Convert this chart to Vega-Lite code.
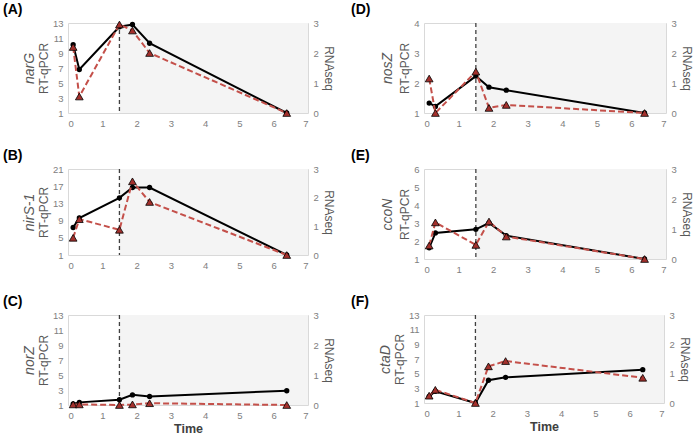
{
  "$schema": "https://vega.github.io/schema/vega-lite/v6.json",
  "padding": {"left": 2, "top": 2, "right": 0, "bottom": 0},
  "background": "white",
  "datasets": {
    "expr": [
      {"gene": "narG", "time": 0.15, "qpcr": 10.1, "rnaseq": 2.2},
      {"gene": "narG", "time": 0.33, "qpcr": 6.8, "rnaseq": 0.55},
      {"gene": "narG", "time": 1.5, "qpcr": 12.5, "rnaseq": 2.95},
      {"gene": "narG", "time": 1.88, "qpcr": 12.8, "rnaseq": 2.75},
      {"gene": "narG", "time": 2.38, "qpcr": 10.3, "rnaseq": 2.0},
      {"gene": "narG", "time": 6.38, "qpcr": 1.0, "rnaseq": 0.0},
      {"gene": "nirS-1", "time": 0.15, "qpcr": 7.4, "rnaseq": 0.6},
      {"gene": "nirS-1", "time": 0.33, "qpcr": 9.6, "rnaseq": 1.25},
      {"gene": "nirS-1", "time": 1.5, "qpcr": 14.3, "rnaseq": 0.88},
      {"gene": "nirS-1", "time": 1.88, "qpcr": 16.7, "rnaseq": 2.57},
      {"gene": "nirS-1", "time": 2.38, "qpcr": 16.7, "rnaseq": 1.85},
      {"gene": "nirS-1", "time": 6.38, "qpcr": 1.0, "rnaseq": 0.0},
      {"gene": "norZ", "time": 0.15, "qpcr": 1.15, "rnaseq": 0.02},
      {"gene": "norZ", "time": 0.33, "qpcr": 1.35, "rnaseq": 0.02},
      {"gene": "norZ", "time": 1.5, "qpcr": 1.7, "rnaseq": 0.0},
      {"gene": "norZ", "time": 1.88, "qpcr": 2.35, "rnaseq": 0.02},
      {"gene": "norZ", "time": 2.38, "qpcr": 2.15, "rnaseq": 0.06},
      {"gene": "norZ", "time": 6.38, "qpcr": 2.9, "rnaseq": 0.0},
      {"gene": "nosZ", "time": 0.15, "qpcr": 1.33, "rnaseq": 1.15},
      {"gene": "nosZ", "time": 0.33, "qpcr": 1.22, "rnaseq": 0.0},
      {"gene": "nosZ", "time": 1.5, "qpcr": 2.23, "rnaseq": 1.38},
      {"gene": "nosZ", "time": 1.88, "qpcr": 1.86, "rnaseq": 0.17},
      {"gene": "nosZ", "time": 2.38, "qpcr": 1.76, "rnaseq": 0.27},
      {"gene": "nosZ", "time": 6.38, "qpcr": 1.0, "rnaseq": 0.0},
      {"gene": "ccoN", "time": 0.15, "qpcr": 1.62, "rnaseq": 0.45},
      {"gene": "ccoN", "time": 0.33, "qpcr": 2.45, "rnaseq": 1.22},
      {"gene": "ccoN", "time": 1.5, "qpcr": 2.65, "rnaseq": 0.47},
      {"gene": "ccoN", "time": 1.88, "qpcr": 3.0, "rnaseq": 1.25},
      {"gene": "ccoN", "time": 2.38, "qpcr": 2.3, "rnaseq": 0.75},
      {"gene": "ccoN", "time": 6.38, "qpcr": 1.0, "rnaseq": 0.0},
      {"gene": "ctaD", "time": 0.15, "qpcr": 1.9, "rnaseq": 0.25},
      {"gene": "ctaD", "time": 0.33, "qpcr": 2.6, "rnaseq": 0.45},
      {"gene": "ctaD", "time": 1.5, "qpcr": 1.0, "rnaseq": 0.0},
      {"gene": "ctaD", "time": 1.88, "qpcr": 4.1, "rnaseq": 1.25},
      {"gene": "ctaD", "time": 2.38, "qpcr": 4.5, "rnaseq": 1.43},
      {"gene": "ctaD", "time": 6.38, "qpcr": 5.55, "rnaseq": 0.86}
    ],
    "shift": [{"time": 1.5, "t1": 7}]
  },
  "spacing": 20,
  "vconcat": [
    {
      "spacing": 15,
      "hconcat": [
        {
          "width": 240, "height": 90,
          "title": {"text": "(A)"},
          "data": {"name": "expr"},
          "transform": [{"filter": "datum.gene === 'narG'"}],
          "encoding": {"x": {"field": "time", "type": "quantitative", "scale": {"domain": [0, 7], "nice": false}, "axis": {"values": [0, 1, 2, 3, 4, 5, 6, 7], "title": null}}},
          "layer": [
            {"data": {"name": "shift"}, "mark": {"type": "rect", "color": "#f4f4f4"}, "encoding": {"x2": {"field": "t1"}}},
            {"data": {"name": "shift"}, "mark": {"type": "rule", "color": "#404040", "strokeDash": [4, 3], "strokeWidth": 1.3}, "encoding": {}},
            {"layer": [
              {"mark": {"type": "line", "color": "#000000", "strokeWidth": 2}},
              {"mark": {"type": "point", "filled": true, "color": "#000000", "size": 28, "opacity": 1}}
            ], "encoding": {"y": {"field": "qpcr", "type": "quantitative", "scale": {"domain": [1, 13], "nice": false, "zero": false}, "axis": {"orient": "left", "values": [1, 3, 5, 7, 9, 11, 13], "title": "RT-qPCR", "titlePadding": 2}}}},
            {"layer": [
              {"mark": {"type": "line", "color": "#c4504a", "strokeWidth": 2, "strokeDash": [6, 3]}},
              {"mark": {"type": "point", "shape": "triangle-up", "filled": true, "fill": "#a3302c", "stroke": "#000000", "strokeWidth": 0.8, "size": 60, "opacity": 1}}
            ], "encoding": {"y": {"field": "rnaseq", "type": "quantitative", "scale": {"domain": [0, 3], "nice": false}, "axis": {"orient": "right", "values": [0, 1, 2, 3], "title": "RNAseq", "titlePadding": 3}}}},
            {"mark": {"type": "point", "opacity": 0}, "encoding": {"y": {"field": "qpcr", "type": "quantitative", "scale": {"domain": [1, 13], "nice": false, "zero": false}, "axis": {"orient": "left", "labels": false, "title": "narG", "titleFontStyle": "italic", "titleFontSize": 14, "titlePadding": 32}}}}
          ],
          "resolve": {"scale": {"y": "independent"}}
        },
        {
          "width": 242, "height": 90,
          "title": {"text": "(D)", "dx": -73},
          "data": {"name": "expr"},
          "transform": [{"filter": "datum.gene === 'nosZ'"}],
          "encoding": {"x": {"field": "time", "type": "quantitative", "scale": {"domain": [0, 7], "nice": false}, "axis": {"values": [0, 1, 2, 3, 4, 5, 6, 7], "title": null}}},
          "layer": [
            {"data": {"name": "shift"}, "mark": {"type": "rect", "color": "#f4f4f4"}, "encoding": {"x2": {"field": "t1"}}},
            {"data": {"name": "shift"}, "mark": {"type": "rule", "color": "#404040", "strokeDash": [4, 3], "strokeWidth": 1.3}, "encoding": {}},
            {"layer": [
              {"mark": {"type": "line", "color": "#000000", "strokeWidth": 2}},
              {"mark": {"type": "point", "filled": true, "color": "#000000", "size": 28, "opacity": 1}}
            ], "encoding": {"y": {"field": "qpcr", "type": "quantitative", "scale": {"domain": [1, 4], "nice": false, "zero": false}, "axis": {"orient": "left", "values": [1, 2, 3, 4], "title": "RT-qPCR", "titlePadding": 2}}}},
            {"layer": [
              {"mark": {"type": "line", "color": "#c4504a", "strokeWidth": 2, "strokeDash": [6, 3]}},
              {"mark": {"type": "point", "shape": "triangle-up", "filled": true, "fill": "#a3302c", "stroke": "#000000", "strokeWidth": 0.8, "size": 60, "opacity": 1}}
            ], "encoding": {"y": {"field": "rnaseq", "type": "quantitative", "scale": {"domain": [0, 3], "nice": false}, "axis": {"orient": "right", "values": [0, 1, 2, 3], "title": "RNAseq", "titlePadding": 3}}}},
            {"mark": {"type": "point", "opacity": 0}, "encoding": {"y": {"field": "qpcr", "type": "quantitative", "scale": {"domain": [1, 4], "nice": false, "zero": false}, "axis": {"orient": "left", "labels": false, "title": "nosZ", "titleFontStyle": "italic", "titleFontSize": 14, "titlePadding": 30}}}}
          ],
          "resolve": {"scale": {"y": "independent"}}
        }
      ]
    },
    {
      "spacing": 15,
      "hconcat": [
        {
          "width": 240, "height": 86,
          "title": {"text": "(B)"},
          "data": {"name": "expr"},
          "transform": [{"filter": "datum.gene === 'nirS-1'"}],
          "encoding": {"x": {"field": "time", "type": "quantitative", "scale": {"domain": [0, 7], "nice": false}, "axis": {"values": [0, 1, 2, 3, 4, 5, 6, 7], "title": null}}},
          "layer": [
            {"data": {"name": "shift"}, "mark": {"type": "rect", "color": "#f4f4f4"}, "encoding": {"x2": {"field": "t1"}}},
            {"data": {"name": "shift"}, "mark": {"type": "rule", "color": "#404040", "strokeDash": [4, 3], "strokeWidth": 1.3}, "encoding": {}},
            {"layer": [
              {"mark": {"type": "line", "color": "#000000", "strokeWidth": 2}},
              {"mark": {"type": "point", "filled": true, "color": "#000000", "size": 28, "opacity": 1}}
            ], "encoding": {"y": {"field": "qpcr", "type": "quantitative", "scale": {"domain": [1, 21], "nice": false, "zero": false}, "axis": {"orient": "left", "values": [1, 5, 9, 13, 17, 21], "title": "RT-qPCR", "titlePadding": 2}}}},
            {"layer": [
              {"mark": {"type": "line", "color": "#c4504a", "strokeWidth": 2, "strokeDash": [6, 3]}},
              {"mark": {"type": "point", "shape": "triangle-up", "filled": true, "fill": "#a3302c", "stroke": "#000000", "strokeWidth": 0.8, "size": 60, "opacity": 1}}
            ], "encoding": {"y": {"field": "rnaseq", "type": "quantitative", "scale": {"domain": [0, 3], "nice": false}, "axis": {"orient": "right", "values": [0, 1, 2, 3], "title": "RNAseq", "titlePadding": 3}}}},
            {"mark": {"type": "point", "opacity": 0}, "encoding": {"y": {"field": "qpcr", "type": "quantitative", "scale": {"domain": [1, 21], "nice": false, "zero": false}, "axis": {"orient": "left", "labels": false, "title": "nirS-1", "titleFontStyle": "italic", "titleFontSize": 14, "titlePadding": 32}}}}
          ],
          "resolve": {"scale": {"y": "independent"}}
        },
        {
          "width": 242, "height": 90,
          "title": {"text": "(E)", "dx": -73},
          "data": {"name": "expr"},
          "transform": [{"filter": "datum.gene === 'ccoN'"}],
          "encoding": {"x": {"field": "time", "type": "quantitative", "scale": {"domain": [0, 7], "nice": false}, "axis": {"values": [0, 1, 2, 3, 4, 5, 6, 7], "title": null}}},
          "layer": [
            {"data": {"name": "shift"}, "mark": {"type": "rect", "color": "#f4f4f4"}, "encoding": {"x2": {"field": "t1"}}},
            {"data": {"name": "shift"}, "mark": {"type": "rule", "color": "#404040", "strokeDash": [4, 3], "strokeWidth": 1.3}, "encoding": {}},
            {"layer": [
              {"mark": {"type": "line", "color": "#000000", "strokeWidth": 2}},
              {"mark": {"type": "point", "filled": true, "color": "#000000", "size": 28, "opacity": 1}}
            ], "encoding": {"y": {"field": "qpcr", "type": "quantitative", "scale": {"domain": [1, 6], "nice": false, "zero": false}, "axis": {"orient": "left", "values": [1, 2, 3, 4, 5, 6], "title": "RT-qPCR", "titlePadding": 2}}}},
            {"layer": [
              {"mark": {"type": "line", "color": "#c4504a", "strokeWidth": 2, "strokeDash": [6, 3]}},
              {"mark": {"type": "point", "shape": "triangle-up", "filled": true, "fill": "#a3302c", "stroke": "#000000", "strokeWidth": 0.8, "size": 60, "opacity": 1}}
            ], "encoding": {"y": {"field": "rnaseq", "type": "quantitative", "scale": {"domain": [0, 3], "nice": false}, "axis": {"orient": "right", "values": [0, 1, 2, 3], "title": "RNAseq", "titlePadding": 3}}}},
            {"mark": {"type": "point", "opacity": 0}, "encoding": {"y": {"field": "qpcr", "type": "quantitative", "scale": {"domain": [1, 6], "nice": false, "zero": false}, "axis": {"orient": "left", "labels": false, "title": "ccoN", "titleFontStyle": "italic", "titleFontSize": 14, "titlePadding": 30}}}}
          ],
          "resolve": {"scale": {"y": "independent"}}
        }
      ]
    },
    {
      "spacing": 15,
      "hconcat": [
        {
          "width": 240, "height": 90,
          "title": {"text": "(C)"},
          "data": {"name": "expr"},
          "transform": [{"filter": "datum.gene === 'norZ'"}],
          "encoding": {"x": {"field": "time", "type": "quantitative", "scale": {"domain": [0, 7], "nice": false}, "axis": {"values": [0, 1, 2, 3, 4, 5, 6, 7], "title": "Time"}}},
          "layer": [
            {"data": {"name": "shift"}, "mark": {"type": "rect", "color": "#f4f4f4"}, "encoding": {"x2": {"field": "t1"}}},
            {"data": {"name": "shift"}, "mark": {"type": "rule", "color": "#404040", "strokeDash": [4, 3], "strokeWidth": 1.3}, "encoding": {}},
            {"layer": [
              {"mark": {"type": "line", "color": "#000000", "strokeWidth": 2}},
              {"mark": {"type": "point", "filled": true, "color": "#000000", "size": 28, "opacity": 1}}
            ], "encoding": {"y": {"field": "qpcr", "type": "quantitative", "scale": {"domain": [1, 13], "nice": false, "zero": false}, "axis": {"orient": "left", "values": [1, 3, 5, 7, 9, 11, 13], "title": "RT-qPCR", "titlePadding": 2}}}},
            {"layer": [
              {"mark": {"type": "line", "color": "#c4504a", "strokeWidth": 2, "strokeDash": [6, 3]}},
              {"mark": {"type": "point", "shape": "triangle-up", "filled": true, "fill": "#a3302c", "stroke": "#000000", "strokeWidth": 0.8, "size": 60, "opacity": 1}}
            ], "encoding": {"y": {"field": "rnaseq", "type": "quantitative", "scale": {"domain": [0, 3], "nice": false}, "axis": {"orient": "right", "values": [0, 1, 2, 3], "title": "RNAseq", "titlePadding": 3}}}},
            {"mark": {"type": "point", "opacity": 0}, "encoding": {"y": {"field": "qpcr", "type": "quantitative", "scale": {"domain": [1, 13], "nice": false, "zero": false}, "axis": {"orient": "left", "labels": false, "title": "norZ", "titleFontStyle": "italic", "titleFontSize": 14, "titlePadding": 32}}}}
          ],
          "resolve": {"scale": {"y": "independent"}}
        },
        {
          "width": 240, "height": 88,
          "title": {"text": "(F)", "dx": -73},
          "data": {"name": "expr"},
          "transform": [{"filter": "datum.gene === 'ctaD'"}],
          "encoding": {"x": {"field": "time", "type": "quantitative", "scale": {"domain": [0, 7], "nice": false}, "axis": {"values": [0, 1, 2, 3, 4, 5, 6, 7], "title": "Time"}}},
          "layer": [
            {"data": {"name": "shift"}, "mark": {"type": "rect", "color": "#f4f4f4"}, "encoding": {"x2": {"field": "t1"}}},
            {"data": {"name": "shift"}, "mark": {"type": "rule", "color": "#404040", "strokeDash": [4, 3], "strokeWidth": 1.3}, "encoding": {}},
            {"layer": [
              {"mark": {"type": "line", "color": "#000000", "strokeWidth": 2}},
              {"mark": {"type": "point", "filled": true, "color": "#000000", "size": 28, "opacity": 1}}
            ], "encoding": {"y": {"field": "qpcr", "type": "quantitative", "scale": {"domain": [1, 13], "nice": false, "zero": false}, "axis": {"orient": "left", "values": [1, 3, 5, 7, 9, 11, 13], "title": "RT-qPCR", "titlePadding": 2}}}},
            {"layer": [
              {"mark": {"type": "line", "color": "#c4504a", "strokeWidth": 2, "strokeDash": [6, 3]}},
              {"mark": {"type": "point", "shape": "triangle-up", "filled": true, "fill": "#a3302c", "stroke": "#000000", "strokeWidth": 0.8, "size": 60, "opacity": 1}}
            ], "encoding": {"y": {"field": "rnaseq", "type": "quantitative", "scale": {"domain": [0, 3], "nice": false}, "axis": {"orient": "right", "values": [0, 1, 2, 3], "title": "RNAseq", "titlePadding": 3}}}},
            {"mark": {"type": "point", "opacity": 0}, "encoding": {"y": {"field": "qpcr", "type": "quantitative", "scale": {"domain": [1, 13], "nice": false, "zero": false}, "axis": {"orient": "left", "labels": false, "title": "ctaD", "titleFontStyle": "italic", "titleFontSize": 14, "titlePadding": 32}}}}
          ],
          "resolve": {"scale": {"y": "independent"}}
        }
      ]
    }
  ],
  "config": {
    "font": "Liberation Sans",
    "view": {"stroke": "#d9d9d9", "strokeWidth": 1},
    "axis": {"grid": false, "ticks": false, "domain": false, "labelColor": "#808080", "labelFontSize": 9.5, "labelPadding": 5, "titleColor": "#595959", "titleFontWeight": "normal", "titleFontSize": 12, "titlePadding": 4},
    "axisX": {"titleColor": "#404040", "titleFontSize": 12.5, "titleFontWeight": "bold", "titlePadding": 3},
    "title": {"anchor": "start", "frame": "group", "dx": -65, "offset": 1, "fontSize": 14, "fontWeight": "bold", "color": "#000000"}
  }
}
